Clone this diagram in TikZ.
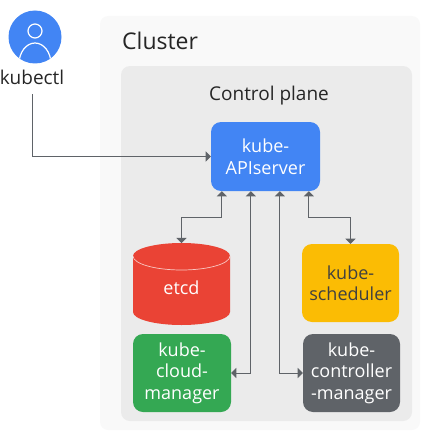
\documentclass[tikz,border=0pt]{standalone}
\usepackage{fontspec}
\setmainfont{Open Sans}
\usetikzlibrary{arrows, calc, positioning}
\definecolor{gblue}{HTML}{4285F4}
\definecolor{gred}{HTML}{EA4335}
\definecolor{ggreen}{HTML}{34A853}
\definecolor{gyellow}{HTML}{FBBC04}
\definecolor{ggrey}{HTML}{5F6368}
\tikzset{
  compbox/.style={rounded corners=10, align=center, font=\fontsize{18}{21.5}\selectfont, text=white, inner sep=0},
  link/.style={draw=ggrey, line width=0.8, triangle 90-triangle 90},
  oneway/.style={draw=ggrey, line width=0.8, -triangle 90},
  title/.style={font=\fontsize{19}{22}\selectfont, text=black!85, inner sep=0}
}
\begin{document}
\begin{tikzpicture}[x=1pt, y=-1pt]
\useasboundingbox (0,0) rectangle (432,436);
\fill[rounded corners=8, fill=black!2.5] (100,16) rectangle (420,430);
\fill[rounded corners=9, fill=black!8] (121,66) rectangle (412,421);
\node[title, font=\fontsize{23}{26}\selectfont, anchor=base west] (cluster) at (122,49) {Cluster};
\node[title, anchor=base] (plane) at (269,100) {Control plane};

\node[circle, fill=gblue, minimum size=53, inner sep=0] (user) at (35,37) {};
\begin{scope}
\clip (35,37) circle (26.5);
\draw[white, line width=1.2] (35,31) circle (7);
\draw[white, line width=1.2] (19,64) arc (180:360:16 and 21);
\end{scope}
\node[title, anchor=base] (kubectl) at (32,84) {kubectl};

\node[compbox, fill=gblue, minimum width=109, minimum height=69] (api) at (265.5,156.5) {kube-\\APIserver};
\fill[gred] (133,256) arc (180:360:48.5 and 13) -- (230,312) arc (0:180:48.5 and 13) -- cycle;
\draw[white, opacity=.7, line width=0.7] (133,256) arc (180:0:48.5 and 14);
\coordinate (etcdtop) at (181.5,243);
\node[text=white, font=\fontsize{18}{21.5}\selectfont, inner sep=0] (etcd) at (181.5,288) {etcd};
\node[compbox, fill=ggreen, minimum width=98, minimum height=78] (cloud) at (182,373) {kube-\\cloud-\\manager};
\node[compbox, fill=gyellow, text=black!75, minimum width=97, minimum height=78] (sched) at (350.5,283) {kube-\\scheduler};
\node[compbox, fill=ggrey, minimum width=97, minimum height=78] (ctrl) at (351.5,373) {kube-\\controller\\-manager};

\coordinate (out) at (32,94);
\coordinate (a) at ($(api.south west)+(11,0)$);
\coordinate (b) at ($(api.south west)+(40,0)$);
\coordinate (c) at ($(api.south west)+(69,0)$);
\coordinate (d) at ($(api.south west)+(98,0)$);

\draw[oneway] (out) |- (api.west);
\draw[link] (a) -- ($(a)+(0,26)$) -| (etcdtop);
\draw[link] (b) |- (cloud.east);
\draw[link] (c) |- (ctrl.west);
\draw[link] (d) -- ($(d)+(0,26)$) -| (sched.north);
\end{tikzpicture}
\end{document}
